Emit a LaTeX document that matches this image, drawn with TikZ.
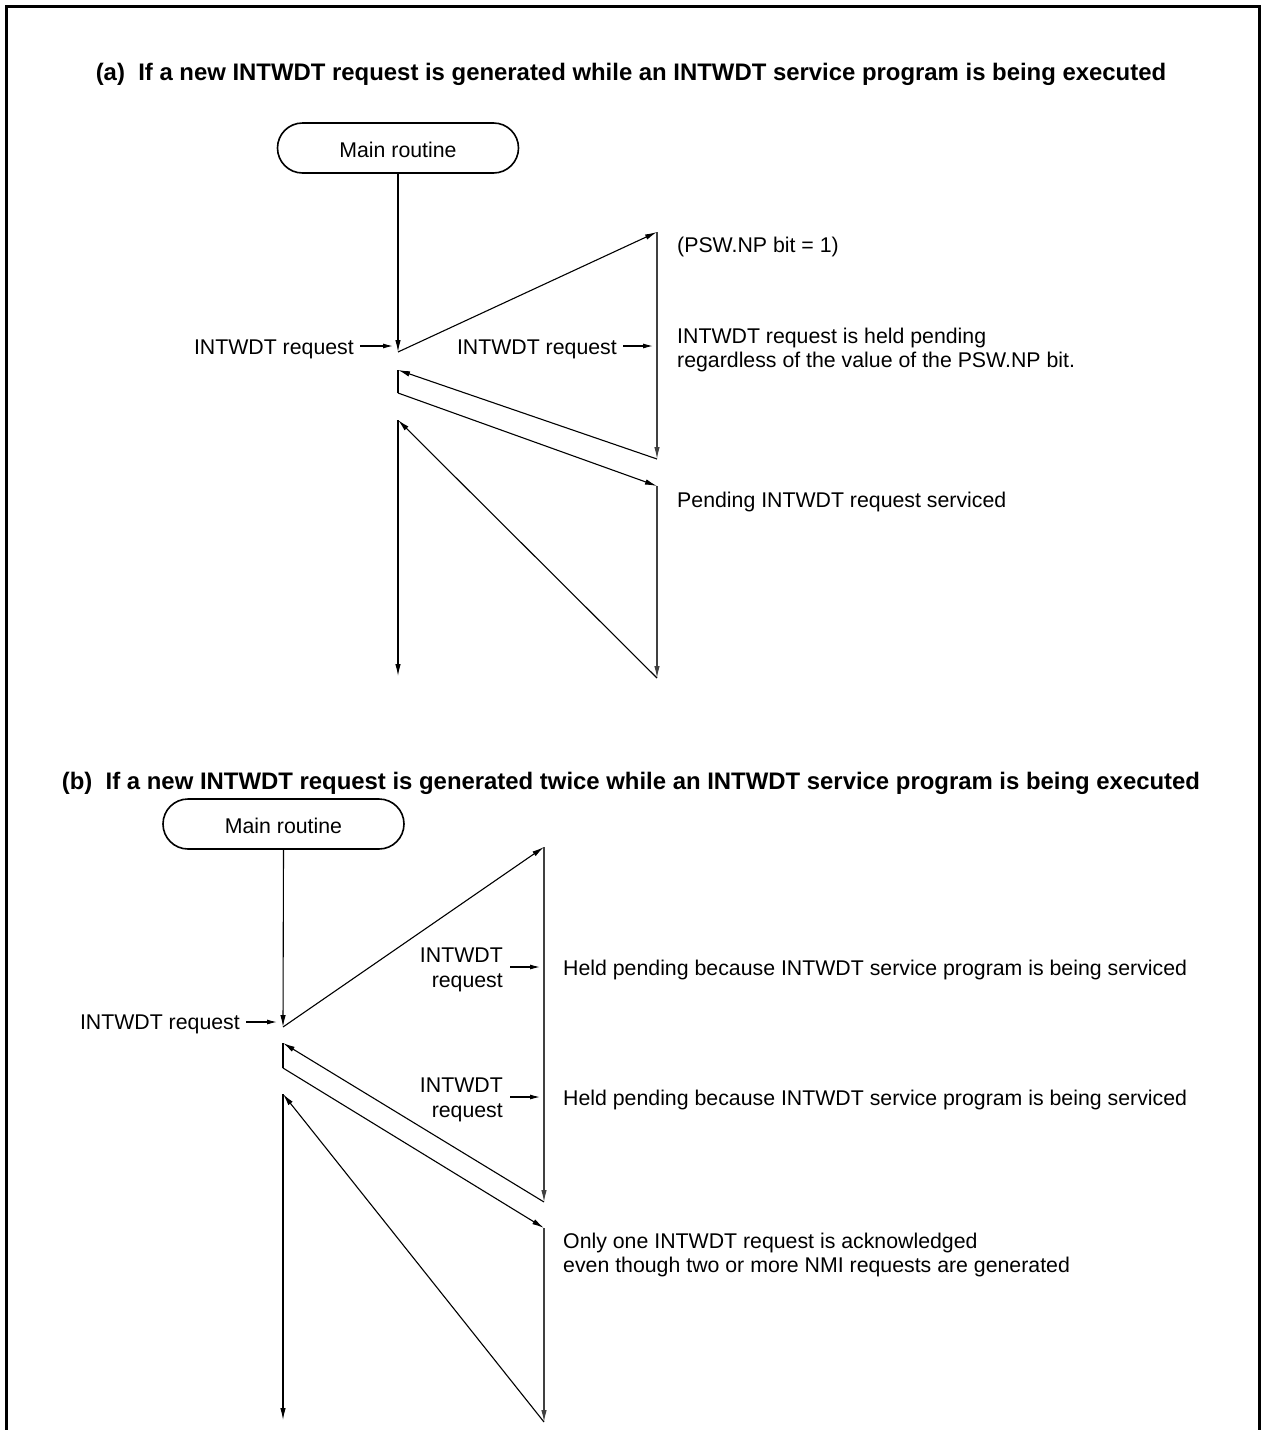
\documentclass[tikz,border=0pt]{standalone}
\usepackage{fontspec}
\setmainfont{Liberation Sans}
\usetikzlibrary{arrows.meta}
\begin{document}
\begin{tikzpicture}[x=1pt,y=-1pt,
  font=\fontsize{21.3}{24}\selectfont,
  conn/.style={line width=1.1pt, -{Latex[length=12pt,width=5.5pt]}},
  plain/.style={line width=1.1pt},
  req/.style={line width=1.1pt, -{Latex[length=10pt,width=5pt]}},
  rvarr/.style={line width=1.1pt, draw=black!75, -{Latex[length=12pt,width=5.5pt]}},
  mainbox/.style={draw, line width=1.6pt, rounded corners=25pt, minimum width=241pt, minimum height=50pt, inner sep=0pt},
  txt/.style={inner sep=0pt, anchor=base west},
  txte/.style={inner sep=0pt, anchor=base east},
  title/.style={inner sep=0pt, anchor=base, font=\fontsize{23.9}{26}\selectfont\bfseries}
]
\useasboundingbox (0,0) rectangle (1261,1430);
% frame
\draw[line width=3pt] (6.5,1432) -- (6.5,6.5) -- (1259,6.5) -- (1259,1432);

% ---------------- (a) ----------------
\node[title] (ta) at (631,80) {(a)\ \ If a new INTWDT request is generated while an INTWDT service program is being executed};
\node[mainbox] (mra) at (398,148) {};
\node[inner sep=0pt, anchor=base] (mrat) at (398,157) {Main routine};

\coordinate (A1) at (398,352);
\coordinate (A2) at (657,232);
\coordinate (A3) at (657,459);
\coordinate (A4) at (398,370);
\coordinate (A5) at (398,393);
\coordinate (A6) at (657,486);
\coordinate (A7) at (657,678);
\coordinate (A8) at (398,420);
\coordinate (A9) at (398,676);

\draw[conn] (mra.south) -- (A1);
\draw[conn] (A1) -- (A2);
\draw[rvarr] (A2) -- (A3);
\draw[conn] (A3) -- (A4);
\draw[plain] (A4) -- (A5);
\draw[conn] (A5) -- (A6);
\draw[rvarr] (A6) -- (A7);
\draw[conn] (A7) -- (A8);
\draw[conn] (A8) -- (A9);

\node[txte] (ra1) at (354,354) {INTWDT request};
\coordinate (ra1e) at (393,346);
\draw[req] (ra1.east |- ra1e) ++(6,0) coordinate (ra1s) -- (ra1e);
\node[txte] (ra2) at (617,354) {INTWDT request};
\coordinate (ra2e) at (653,346);
\draw[req] (ra2.east |- ra2e) ++(6,0) coordinate (ra2s) -- (ra2e);

\node[txt] (psw) at (677,252) {(PSW.NP bit = 1)};
\node[txt] (held1) at (677,343) {INTWDT request is held pending};
\node[txt] (held2) at (677,367) {regardless of the value of the PSW.NP bit.};
\node[txt] (pend) at (677,507) {Pending INTWDT request serviced};

% ---------------- (b) ----------------
\node[title] (tb) at (631,789) {(b)\ \ If a new INTWDT request is generated twice while an INTWDT service program is being executed};
\node[mainbox] (mrb) at (283.5,824) {};
\node[inner sep=0pt, anchor=base] (mrbt) at (283.5,833) {Main routine};

\coordinate (B1) at (283,1027);
\coordinate (B2) at (544,847);
\coordinate (B3) at (544,1202);
\coordinate (B4) at (283,1043);
\coordinate (B5) at (283,1068);
\coordinate (B6) at (544,1228);
\coordinate (B7) at (544,1422);
\coordinate (B8) at (283,1094);
\coordinate (B9) at (283,1420);

\draw[conn] (mrb.south) -- (B1);
\draw[conn] (B1) -- (B2);
\draw[rvarr] (B2) -- (B3);
\draw[conn] (B3) -- (B4);
\draw[plain] (B4) -- (B5);
\draw[conn] (B5) -- (B6);
\draw[rvarr] (B6) -- (B7);
\draw[conn] (B7) -- (B8);
\draw[conn] (B8) -- (B9);

\node[txte] (rb1) at (240,1029) {INTWDT request};
\coordinate (rb1e) at (277,1022);
\draw[req] (rb1.east |- rb1e) ++(6,0) coordinate (rb1s) -- (rb1e);

\node[txte] (rb2a) at (503,962) {INTWDT};
\node[txte] (rb2b) at (503,987) {request};
\coordinate (rb2e) at (540,967);
\draw[req] (rb2a.east |- rb2e) ++(7,0) coordinate (rb2s) -- (rb2e);

\node[txte] (rb3a) at (503,1092) {INTWDT};
\node[txte] (rb3b) at (503,1117) {request};
\coordinate (rb3e) at (540,1097);
\draw[req] (rb3a.east |- rb3e) ++(7,0) coordinate (rb3s) -- (rb3e);

\node[txt] (hp1) at (563,975) {Held pending because INTWDT service program is being serviced};
\node[txt] (hp2) at (563,1105) {Held pending because INTWDT service program is being serviced};
\node[txt] (only1) at (563,1248) {Only one INTWDT request is acknowledged};
\node[txt] (only2) at (563,1272) {even though two or more NMI requests are generated};
\end{tikzpicture}
\end{document}
